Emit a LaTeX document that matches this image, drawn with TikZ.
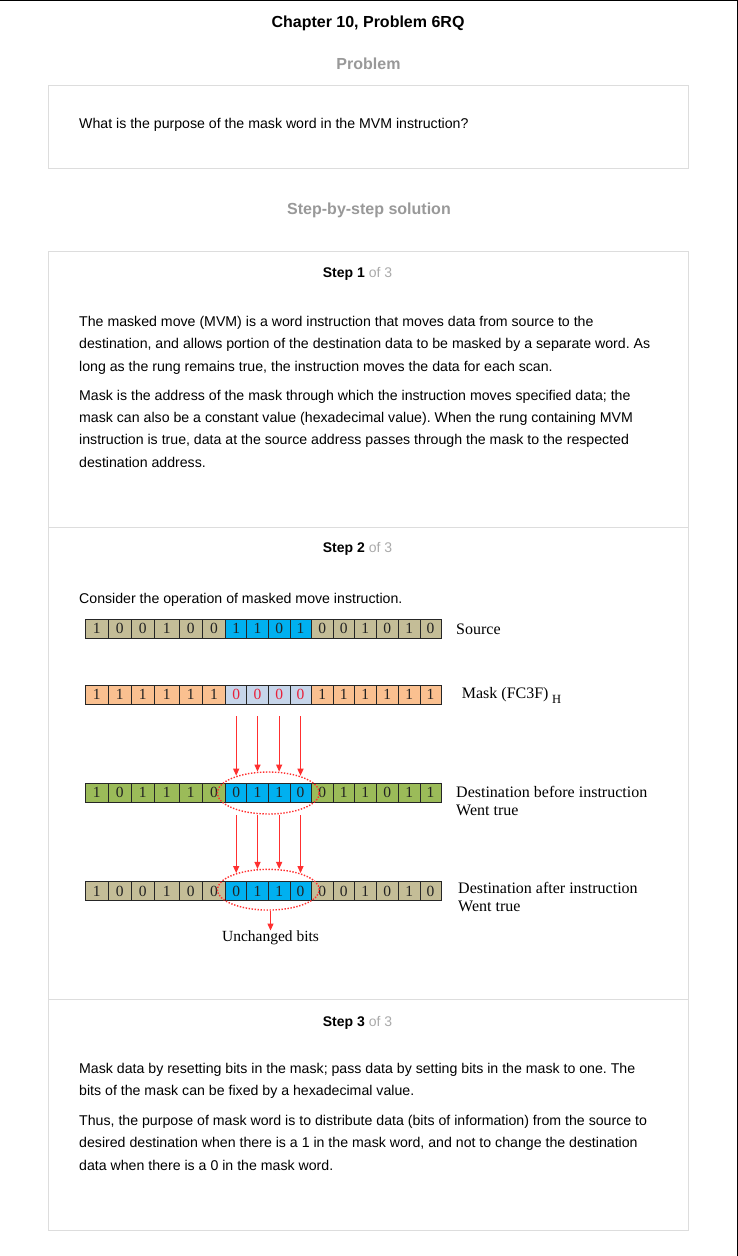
\documentclass[tikz,border=0pt]{standalone}
\usepackage{fontspec}
\setmainfont{Liberation Sans}
\newfontfamily\tnr{Liberation Serif}
\usetikzlibrary{shapes.geometric,arrows.meta,calc}
\frenchspacing
\definecolor{boxgray}{HTML}{DDDDDD}
\definecolor{headgray}{HTML}{999999}
\definecolor{ofgray}{HTML}{AAAAAA}
\definecolor{tanc}{HTML}{C4BD97}
\definecolor{cyanb}{HTML}{00B0F0}
\definecolor{peach}{HTML}{FAC090}
\definecolor{paleb}{HTML}{C6D5EA}
\definecolor{olivec}{HTML}{9BBB59}
\definecolor{arrred}{HTML}{FF3030}
\definecolor{digit}{HTML}{222222}
\definecolor{zred}{HTML}{E8203A}
\def\bnd{{85,108.3,131,154.7,179,202.3,225.7,246.7,268.3,290,311,333.3,354.3,376,398.3,420,441}}
\newcommand\bitrow[4]{%
  \foreach \v/\f/\t [count=\k from 0] in {#4}{%
    \pgfmathsetmacro\xa{\bnd[\k]}%
    \pgfmathsetmacro\xb{\bnd[\k+1]}%
    \pgfmathsetmacro\cw{\xb-\xa}%
    \pgfmathsetmacro\ch{#3-#2}%
    \pgfmathsetmacro\cx{(\xa+\xb)/2}%
    \pgfmathsetmacro\cy{(#2+#3)/2}%
    \node[cell, fill=\f, text=\t, minimum width=\cw pt, minimum height=\ch pt] (#1\k) at (\cx,\cy) {\v};
  }}
\begin{document}
\begin{tikzpicture}[x=1pt,y=-1pt,
  txt/.style={anchor=base west, inner sep=0pt, font=\fontsize{14.15}{16}\selectfont},
  head/.style={anchor=base, inner sep=0pt, font=\fontsize{16}{18}\selectfont\bfseries},
  stephead/.style={anchor=base, inner sep=0pt, font=\fontsize{14}{16}\selectfont},
  panel/.style={draw=boxgray, line width=1pt},
  cell/.style={draw=black!85, line width=0.8pt, inner sep=0pt, font=\tnr\fontsize{15.5}{16}\selectfont},
  lbl/.style={anchor=base west, inner sep=0pt, font=\tnr\fontsize{16}{17}\selectfont},
  oval/.style={ellipse, draw=arrred, line width=1.4pt, dash pattern=on 1.4pt off 1.6pt, inner sep=0pt},
  arr/.style={draw=arrred, line width=1.2pt, -{Triangle[length=7pt,width=6pt]}},
]
\fill[white] (0,0) rectangle (738,1256);
\useasboundingbox (0,0) rectangle (738,1256);
\draw[line width=1.2pt] (0,0.6) -- (737.2,0.6) -- (737.2,1256);

% headings
\node[head] (title) at (368,27.5) {Chapter 10, Problem 6RQ};
\node[head, text=headgray] (probh) at (368.5,69.5) {Problem};
\node[head, text=headgray] (sbs) at (369,214.5) {Step-by-step solution};

% panels
\draw[panel] (48.5,85.5) rectangle (688.5,168.5);
\draw[panel] (48.5,251.5) rectangle (688.5,1230.5);
\draw[panel] (48.5,527.5) -- (688.5,527.5);
\draw[panel] (48.5,999.5) -- (688.5,999.5);

\node[txt] (q) at (79,128.5) {What is the purpose of the mask word in the MVM instruction?};

% step 1
\node[stephead] (st1) at (357.5,277) {\textbf{Step 1} \textcolor{ofgray}{of 3}};
\node[txt] (a1) at (79,326.5) {The masked move (MVM) is a word instruction that moves data from source to the};
\node[txt] (a2) at (79,348.8) {destination, and allows portion of the destination data to be masked by a separate word. As};
\node[txt] (a3) at (79,371.1) {long as the rung remains true, the instruction moves the data for each scan.};
\node[txt] (b1) at (79,400) {Mask is the address of the mask through which the instruction moves specified data; the};
\node[txt] (b2) at (79,422.3) {mask can also be a constant value (hexadecimal value). When the rung containing MVM};
\node[txt] (b3) at (79,444.6) {instruction is true, data at the source address passes through the mask to the respected};
\node[txt] (b4) at (79,467) {destination address.};

% step 2
\node[stephead] (st2) at (357.5,552) {\textbf{Step 2} \textcolor{ofgray}{of 3}};
\node[txt] (c1) at (79,603) {Consider the operation of masked move instruction.};

\bitrow{s}{619.3}{638.3}{1/tanc/digit,0/tanc/digit,0/tanc/digit,1/tanc/digit,0/tanc/digit,0/tanc/digit,1/cyanb/digit,1/cyanb/digit,0/cyanb/digit,1/cyanb/digit,0/tanc/digit,0/tanc/digit,1/tanc/digit,0/tanc/digit,1/tanc/digit,0/tanc/digit}
\bitrow{m}{685.5}{704}{1/peach/digit,1/peach/digit,1/peach/digit,1/peach/digit,1/peach/digit,1/peach/digit,0/paleb/zred,0/paleb/zred,0/paleb/zred,0/paleb/zred,1/peach/digit,1/peach/digit,1/peach/digit,1/peach/digit,1/peach/digit,1/peach/digit}
\bitrow{d}{783.3}{802.3}{1/olivec/digit,0/olivec/digit,1/olivec/digit,1/olivec/digit,1/olivec/digit,0/olivec/digit,0/cyanb/digit,1/cyanb/digit,1/cyanb/digit,0/cyanb/digit,0/olivec/digit,1/olivec/digit,1/olivec/digit,0/olivec/digit,1/olivec/digit,1/olivec/digit}
\bitrow{r}{881.5}{900.5}{1/tanc/digit,0/tanc/digit,0/tanc/digit,1/tanc/digit,0/tanc/digit,0/tanc/digit,0/cyanb/digit,1/cyanb/digit,1/cyanb/digit,0/cyanb/digit,0/tanc/digit,0/tanc/digit,1/tanc/digit,0/tanc/digit,1/tanc/digit,0/tanc/digit}

\node[oval, minimum width=102pt, minimum height=42pt] (e1) at (268.3,793) {};
\node[oval, minimum width=102pt, minimum height=40.7pt] (e2) at (268.3,889.7) {};

\foreach \k/\dy in {6/4.4,7/0.3,8/0.3,9/4.4}{
  \draw[arr] ($(m\k.south)+(0,12)$) -- ($(m\k.south |- e1.north)+(0,\dy)$);
  \draw[arr] ($(d\k.south)+(0,12.5)$) -- ($(d\k.south |- e2.north)+(0,\dy)$);
}

\node[lbl, anchor=base, font=\tnr\fontsize{15.5}{17}\selectfont] (u) at (270.5,941.5) {Unchanged bits};
\draw[arr] (u.north |- e2.south) -- (u.north);

\node[lbl] (ls) at (456,634) {Source};
\node[lbl] (lm) at (461.7,698) {Mask (FC3F)\hspace{3.5pt}\raisebox{-5pt}{\fontsize{12.5}{13}\selectfont H}};
\node[lbl] (ld1) at (456,797) {Destination before instruction};
\node[lbl] (ld2) at (456,815) {Went true};
\node[lbl] (la1) at (458,893) {Destination after instruction};
\node[lbl] (la2) at (458,911) {Went true};

% step 3
\node[stephead] (st3) at (357.5,1026) {\textbf{Step 3} \textcolor{ofgray}{of 3}};
\node[txt] (d1) at (79,1073.5) {Mask data by resetting bits in the mask; pass data by setting bits in the mask to one. The};
\node[txt] (d2) at (79,1095.8) {bits of the mask can be fixed by a hexadecimal value.};
\node[txt] (e1t) at (79,1125.5) {Thus, the purpose of mask word is to distribute data (bits of information) from the source to};
\node[txt] (e2t) at (79,1147.8) {desired destination when there is a 1 in the mask word, and not to change the destination};
\node[txt] (e3t) at (79,1170.1) {data when there is a 0 in the mask word.};
\end{tikzpicture}
\end{document}
